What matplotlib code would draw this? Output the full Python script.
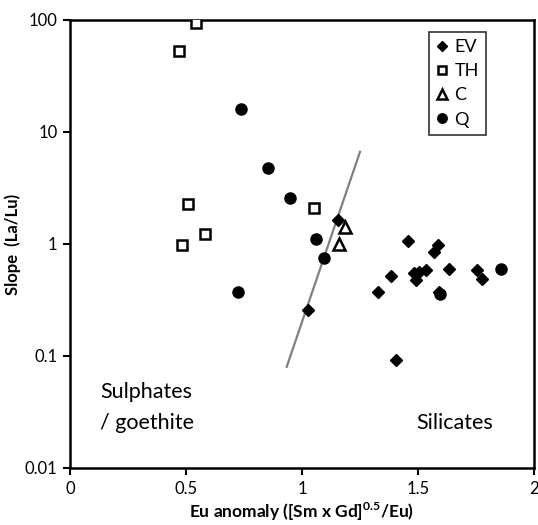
import matplotlib
matplotlib.use("Agg")
import matplotlib.pyplot as plt
from matplotlib.ticker import FixedLocator, FixedFormatter, NullLocator

plt.rcParams['font.family'] = ['Lato', 'DejaVu Sans']

# EV series
ev_x = [1.156, 1.027, 1.406, 1.458, 1.585, 1.569, 1.382, 1.326, 1.484, 1.506,
        1.491, 1.534, 1.632, 1.756, 1.776, 1.59]
ev_y = [1.63, 0.256, 0.093, 1.06, 0.975, 0.85, 0.52, 0.373, 0.552, 0.564,
        0.475, 0.583, 0.604, 0.583, 0.482, 0.37]
# TH series
th_x = [0.543, 0.471, 0.510, 0.582, 0.484, 1.050]
th_y = [94.6, 53.2, 2.27, 1.22, 0.975, 2.09]
# C series
c_x = [1.185, 1.161]
c_y = [1.42, 1.00]
# Q series
q_x = [0.737, 0.853, 0.948, 1.059, 1.095, 0.725, 1.859, 1.595]
q_y = [16.2, 4.73, 2.58, 1.10, 0.75, 0.373, 0.604, 0.36]

# boundary line
line_x = [0.934, 1.25]
line_y = [0.08, 6.65]

x_ticks = [0, 0.5, 1, 1.5, 2]
x_labels = ['0', '0.5', '1', '1.5', '2']
y_ticks = [0.01, 0.1, 1, 10, 100]
y_labels = ['0.01', '0.1', '1', '10', '100']

fig = plt.figure(figsize=(5.38, 5.25), dpi=100)
ax = fig.add_axes([70/538, 1-468/525, 464/538, 448/525])

ax.plot(line_x, line_y, color='#808080', lw=1.6, zorder=1)

ax.plot(ev_x, ev_y, 'D', color='black', ms=6.3, ls='none', label='EV', zorder=3)
ax.plot(th_x, th_y, 's', mfc='white', mec='black', mew=1.8, ms=7.5, ls='none', label='TH', zorder=3)
ax.plot(c_x, c_y, '^', mfc='white', mec='black', mew=1.8, ms=8, ls='none', label='C', zorder=3)
ax.plot(q_x, q_y, 'o', color='black', ms=8, ls='none', label='Q', zorder=3)

ax.set_yscale('log')
ax.set_xlim(0, 2)
ax.set_ylim(0.01, 100)
ax.xaxis.set_major_locator(FixedLocator(x_ticks))
ax.xaxis.set_major_formatter(FixedFormatter(x_labels))
ax.yaxis.set_major_locator(FixedLocator(y_ticks))
ax.yaxis.set_major_formatter(FixedFormatter(y_labels))
ax.yaxis.set_minor_locator(NullLocator())
ax.xaxis.set_minor_locator(NullLocator())

for s in ax.spines.values():
    s.set_linewidth(1.8)
ax.tick_params(axis='both', direction='out', length=5, width=1.5, labelsize=12, pad=4)

ax.set_xlabel('Eu anomaly ([Sm x Gd]$^{\\mathregular{0.5}}$/Eu)', fontsize=12.5, fontweight='bold', labelpad=3)
ax.set_ylabel('Slope  (La/Lu)', fontsize=12, fontweight='bold', labelpad=3)

ax.text((100-70)/464*2, 10**(2 - (392-20)/111.9), 'Sulphates', fontsize=15.5, va='center', ha='left')
ax.text((100-70)/464*2, 10**(2 - (423-20)/111.9), '/ goethite', fontsize=15.5, va='center', ha='left')
ax.text((416-70)/464*2, 10**(2 - (423-20)/111.9), 'Silicates', fontsize=15.5, va='center', ha='left')

leg = ax.legend(loc='upper left', bbox_to_anchor=((429-70)/464, (468-32)/448),
                frameon=True, fancybox=False, edgecolor='black', fontsize=13,
                handlelength=0.6, handletextpad=0.4, labelspacing=0.45,
                borderpad=0.4, markerscale=0.85, borderaxespad=0)
leg.get_frame().set_linewidth(1.2)

fig.savefig('out.png', dpi=100)
